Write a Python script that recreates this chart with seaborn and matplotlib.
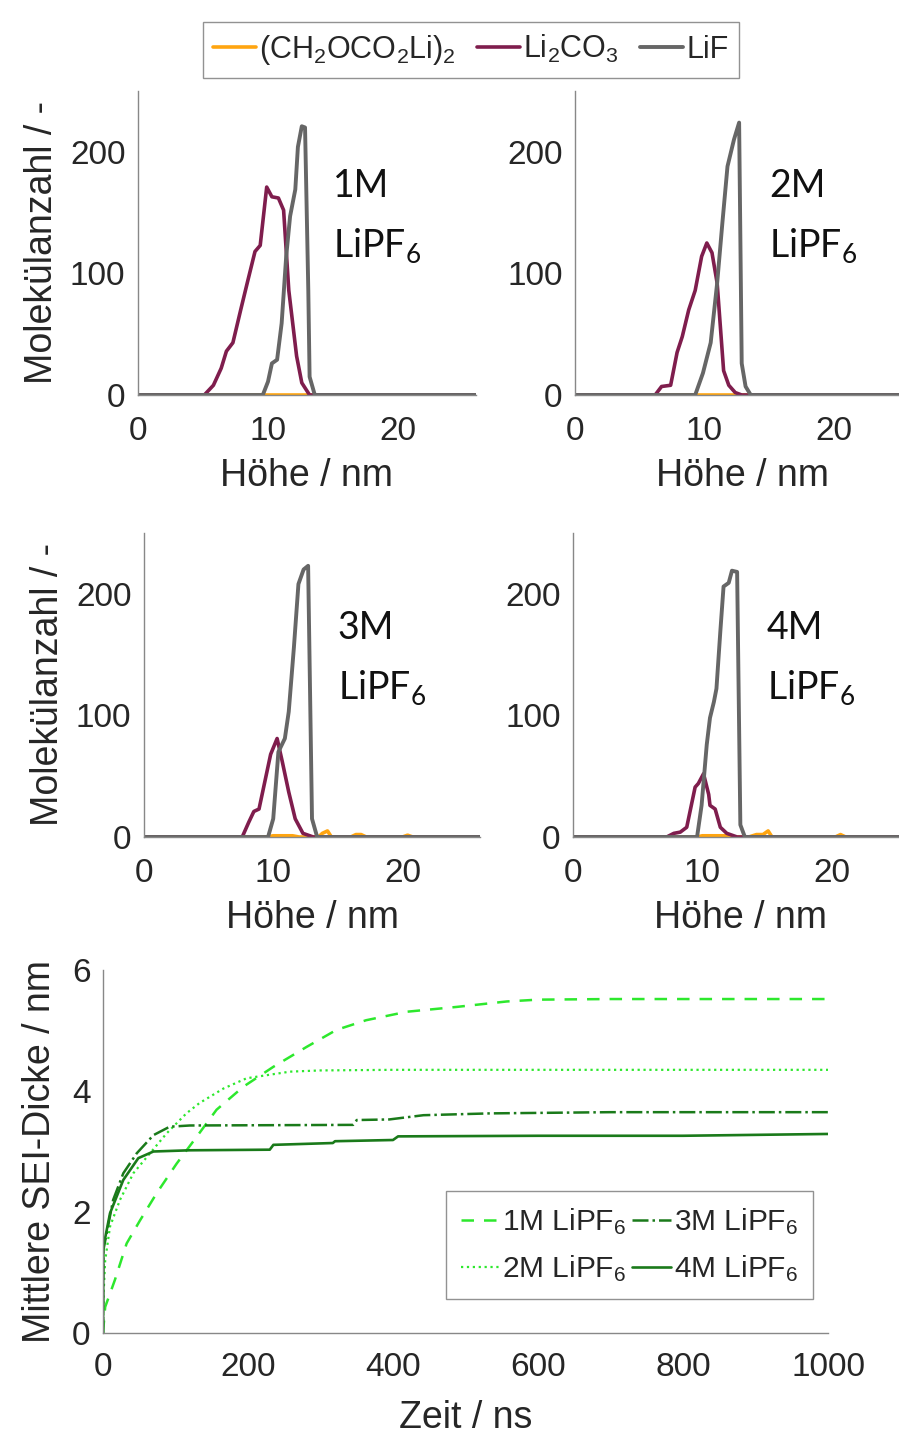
import numpy as np
import pandas as pd
import seaborn as sns
import matplotlib.pyplot as plt

# --- data ---
# height profiles (Höhe / nm -> Molekülanzahl)
p1_carb_x = [0, 5.1, 5.8, 6.4, 6.8, 7.3, 7.9, 8.4, 9.0, 9.4, 9.9, 10.3, 10.8, 11.2, 11.6, 12.2, 12.6, 13.2, 26]
p1_carb_y = [0, 0, 8, 22, 36, 43, 70, 92, 118, 123, 171, 163, 162, 152, 86, 32, 10, 0, 0]
p1_lif_x = [0, 9.6, 10.0, 10.3, 10.7, 11.05, 11.4, 11.7, 12.1, 12.3, 12.6, 12.85, 13.1, 13.2, 13.6, 26]
p1_lif_y = [0, 0, 11, 26, 29, 59, 114, 147, 169, 204, 221, 220, 86, 15, 0, 0]
p1_edc_x = [0, 26]
p1_edc_y = [0, 0]

p2_carb_x = [0, 6.2, 6.7, 7.4, 7.9, 8.3, 8.8, 9.3, 9.8, 10.2, 10.6, 11.0, 11.5, 11.9, 12.4, 12.9, 26]
p2_carb_y = [0, 0, 7, 8, 35, 48, 70, 86, 114, 125, 117, 92, 20, 8, 2, 0, 0]
p2_lif_x = [0, 9.3, 9.9, 10.5, 11.0, 11.4, 11.8, 12.3, 12.7, 12.9, 13.2, 13.6, 26]
p2_lif_y = [0, 0, 18, 43, 92, 141, 188, 210, 224, 26, 7, 0, 0]
p2_edc_x = [0, 26]
p2_edc_y = [0, 0]

p3_carb_x = [0, 7.6, 8.1, 8.5, 8.9, 9.4, 9.8, 10.3, 10.7, 11.2, 11.7, 12.3, 13.1, 26]
p3_carb_y = [0, 0, 12, 21, 23, 48, 68, 81, 62, 37, 15, 3, 0, 0]
p3_lif_x = [0, 9.6, 10.0, 10.4, 10.9, 11.2, 11.6, 11.95, 12.35, 12.7, 13.0, 13.4, 26]
p3_lif_y = [0, 0, 15, 70, 81, 103, 156, 208, 220, 223, 15, 0, 0]
p3_edc_x = [0, 9.5, 10, 11.5, 12, 13.5, 13.8, 14.2, 14.5, 16, 16.4, 16.8, 17.2, 20, 20.4, 20.8, 26]
p3_edc_y = [0, 0, 1, 1, 0, 0, 3, 5, 0, 0, 2, 2, 0, 0, 1.5, 0, 0]

p4_carb_x = [0, 7.25, 7.8, 8.3, 8.8, 9.45, 9.7, 10.1, 10.5, 10.6, 11.0, 11.4, 11.9, 12.7, 26]
p4_carb_y = [0, 0, 3, 4, 8, 41, 44, 52, 35, 26, 23, 8, 3, 0, 0]
p4_lif_x = [0, 9.6, 9.95, 10.35, 10.6, 10.9, 11.1, 11.4, 11.65, 12.05, 12.3, 12.7, 12.95, 13.3, 26]
p4_lif_y = [0, 0, 26, 76, 98, 111, 122, 169, 206, 209, 219, 218, 10, 0, 0]
p4_edc_x = [0, 9.6, 10, 11.8, 12.2, 13.6, 14.2, 14.7, 15.1, 15.4, 20.3, 20.7, 21.1, 26]
p4_edc_y = [0, 0, 1, 1, 0, 0, 2, 2, 5, 0, 0, 2, 0, 0]

panel_names = ["1M", "2M", "3M", "4M"]

# SEI thickness over time
t1 = [0, 3, 16.5, 32.6, 51, 74, 101.6, 129, 156.6, 193.5, 235, 281, 322, 363, 419, 488, 557, 600, 700, 800, 900, 1000]
d1 = [0, 0.43, 0.88, 1.48, 1.86, 2.31, 2.80, 3.24, 3.69, 4.07, 4.40, 4.73, 5.01, 5.17, 5.31, 5.39, 5.48, 5.51, 5.52, 5.52, 5.52, 5.52]
t2 = [0, 1, 3, 9.7, 23.4, 41.8, 64.8, 87.8, 115, 133, 166, 198, 225, 258, 300, 400, 600, 800, 1000]
d2 = [0, 0.7, 1.2, 1.76, 2.20, 2.64, 2.97, 3.30, 3.63, 3.80, 4.04, 4.21, 4.26, 4.32, 4.34, 4.35, 4.35, 4.35, 4.35]
t3 = [0, 0.5, 14, 28, 46.5, 69.5, 92, 120, 345, 350, 395, 442, 534, 700, 1000]
d3 = [0, 1.37, 2.2, 2.64, 2.97, 3.27, 3.41, 3.43, 3.44, 3.52, 3.53, 3.60, 3.63, 3.65, 3.65]
t4 = [0, 0.5, 9.7, 28, 48.7, 69.5, 120, 230, 235, 317, 320, 400, 407, 600, 800, 1000]
d4 = [0, 1.42, 1.98, 2.53, 2.89, 3.00, 3.02, 3.03, 3.11, 3.14, 3.17, 3.19, 3.25, 3.26, 3.26, 3.29]

sns.set_style("white")
plt.rcParams['font.family'] = ['Liberation Sans', 'DejaVu Sans']
plt.rcParams['mathtext.fontset'] = 'custom'
plt.rcParams['mathtext.rm'] = 'Liberation Sans'
plt.rcParams['mathtext.default'] = 'regular'

c_edc = "#ffa510"
c_carb = "#7f1d4d"
c_lif = "#666666"
c_light = "#2de82d"
c_dark = "#1a7a1a"
txt = "#262626"

fig = plt.figure(figsize=(8.99, 14.39), dpi=100)

W, H = 899.0, 1439.0


def add_ax(left, bottom, width, height):
    return fig.add_axes([left / W, 1 - bottom / H, width / W, height / H])


def style_ax(ax, fs, xpad):
    sns.despine(ax=ax)
    for s in ["left", "bottom"]:
        ax.spines[s].set_color("#888888")
        ax.spines[s].set_linewidth(1.0)
    ax.tick_params(direction="in", length=4, color="#888888", labelsize=fs,
                   labelcolor=txt)
    ax.tick_params(axis="y", pad=9)
    ax.tick_params(axis="x", pad=xpad)
    leg = ax.get_legend()
    if leg is not None:
        leg.remove()


panels = [
    (add_ax(138, 395, 338, 304), p1_edc_x, p1_edc_y, p1_carb_x, p1_carb_y, p1_lif_x, p1_lif_y),
    (add_ax(575, 395, 336, 304), p2_edc_x, p2_edc_y, p2_carb_x, p2_carb_y, p2_lif_x, p2_lif_y),
    (add_ax(144, 837, 336, 304), p3_edc_x, p3_edc_y, p3_carb_x, p3_carb_y, p3_lif_x, p3_lif_y),
    (add_ax(573, 837, 336, 304), p4_edc_x, p4_edc_y, p4_carb_x, p4_carb_y, p4_lif_x, p4_lif_y),
]

for i, (ax, ex, ey, cx, cy, lx, ly) in enumerate(panels):
    sns.lineplot(x=ex, y=ey, ax=ax, color=c_edc, lw=2.6, estimator=None,
                 label=r"(CH$_2$OCO$_2$Li)$_2$")
    sns.lineplot(x=cx, y=cy, ax=ax, color=c_carb, lw=2.6, estimator=None,
                 label=r"Li$_2$CO$_3$")
    sns.lineplot(x=lx, y=ly, ax=ax, color=c_lif, lw=2.8, estimator=None,
                 label="LiF")
    ax.set_xlim(0, 26)
    ax.set_ylim(0, 250)
    ax.set_xticks([0, 10, 20])
    ax.set_yticks([0, 100, 200])
    ax.set_xlabel("Höhe / nm", fontsize=27, color=txt, labelpad=8)
    if i % 2 == 0:
        ax.set_ylabel("Molekülanzahl / -", fontsize=27, color=txt, labelpad=7)
    else:
        ax.set_ylabel("")
    if i == 0:
        handles, labels = ax.get_legend_handles_labels()
    style_ax(ax, 24, 15)
    ax.text(15.0, 172, panel_names[i], fontsize=27, family=["Lato", "DejaVu Sans"],
            ha="left", va="center", color="#111111")
    ax.text(15.0, 123, r"LiPF$_6$", fontsize=27, family=["Lato", "DejaVu Sans"],
            ha="left", va="center", color="#111111")

fig.legend(handles, labels, loc="center", bbox_to_anchor=(471 / W, 1 - 50 / H),
           ncol=3, fontsize=22, frameon=True, fancybox=False, edgecolor="#777777",
           handlelength=1.4, handletextpad=0.1, columnspacing=0.7,
           borderpad=0.35, borderaxespad=0)

# bottom panel
axb = add_ax(103, 1333, 725, 363)
sns.lineplot(x=t1, y=d1, ax=axb, color=c_light, lw=1.8, ls=(0, (5, 4)), estimator=None,
             label=r"1M LiPF$_6$")
sns.lineplot(x=t2, y=d2, ax=axb, color=c_light, lw=1.6, ls=":", estimator=None,
             label=r"2M LiPF$_6$")
sns.lineplot(x=t3, y=d3, ax=axb, color=c_dark, lw=1.8, ls="-.", estimator=None,
             label=r"3M LiPF$_6$")
sns.lineplot(x=t4, y=d4, ax=axb, color=c_dark, lw=1.9, ls="-", estimator=None,
             label=r"4M LiPF$_6$")
axb.set_xlim(0, 1000)
axb.set_ylim(0, 6)
axb.set_xticks([0, 200, 400, 600, 800, 1000])
axb.set_yticks([0, 2, 4, 6])
axb.set_xlabel("Zeit / ns", fontsize=27, color=txt, labelpad=12)
axb.set_ylabel("Mittlere SEI-Dicke / nm", fontsize=27, color=txt, labelpad=10)
hb, lb = axb.get_legend_handles_labels()
style_ax(axb, 24, 14)
fig.legend(hb, lb, loc="center", bbox_to_anchor=(629.5 / W, 1 - 1245 / H),
           ncol=2, fontsize=21.5, frameon=True, fancybox=False, edgecolor="#777777",
           handlelength=1.3, handletextpad=0.1, columnspacing=0.2,
           borderpad=0.5, labelspacing=0.55, borderaxespad=0)

fig.savefig("out.png", dpi=100, facecolor="white")
